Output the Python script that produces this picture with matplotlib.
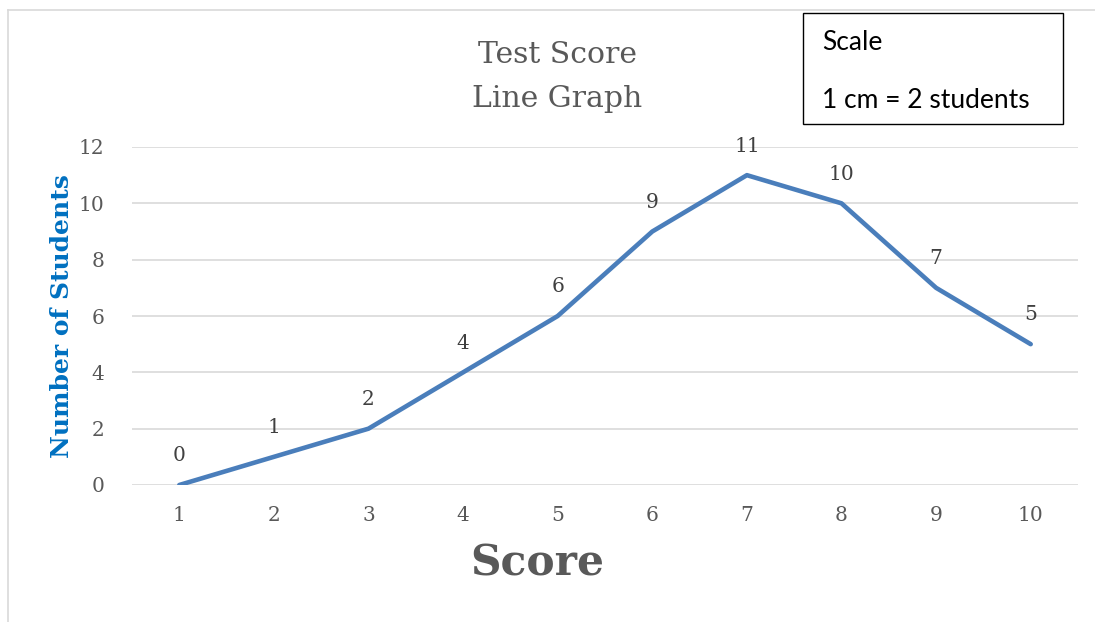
import matplotlib
matplotlib.use("Agg")
import matplotlib.pyplot as plt
from matplotlib.patches import Rectangle
from matplotlib.lines import Line2D

scores = [1, 2, 3, 4, 5, 6, 7, 8, 9, 10]
students = [0, 1, 2, 4, 6, 9, 11, 10, 7, 5]
y_ticks = [0, 2, 4, 6, 8, 10, 12]

serif = ["DejaVu Serif"]
sans = ["Lato", "DejaVu Sans"]
gray = "#595959"

fig = plt.figure(figsize=(10.95, 6.22), dpi=100)
W, H = 1095, 622

def fx(px):
    return px / W

def fy(py):
    return 1 - py / H

# outer chart border
fig.add_artist(Line2D([fx(8), fx(8)], [fy(10), fy(622)], color="#D9D9D9", lw=1.2, transform=fig.transFigure))
fig.add_artist(Line2D([fx(8), 1.0], [fy(10), fy(10)], color="#D9D9D9", lw=1.2, transform=fig.transFigure))

ax = fig.add_axes([fx(132), fy(485), fx(1078) - fx(132), (485 - 147) / H])
ax.plot(scores, students, color="#4A7EBB", lw=3.3, solid_capstyle="round", solid_joinstyle="round", zorder=3)
for x, y in zip(scores, students):
    ax.annotate(str(y), (x, y), xytext=(0, 21), textcoords="offset points",
                ha="center", va="center", fontsize=14.5, color="#404040", family=serif)

ax.set_xlim(0.5, 10.5)
ax.set_ylim(0, 12)
ax.set_yticks(y_ticks)
ax.set_xticks(scores)
ax.set_xticklabels([str(s) for s in scores], family=serif, fontsize=14.5, color=gray)
ax.set_yticklabels([str(t) for t in y_ticks], family=serif, fontsize=14.5, color=gray)
ax.tick_params(axis="both", length=0)
ax.tick_params(axis="x", pad=15)
ax.tick_params(axis="y", pad=20)
ax.grid(axis="y", color="#D9D9D9", lw=1.2)
ax.set_axisbelow(True)
for s in ax.spines.values():
    s.set_visible(False)

# titles
fig.text(fx(557), fy(55), "Test Score", ha="center", va="center", fontsize=21.5, color=gray, family=serif)
fig.text(fx(557), fy(99), "Line Graph", ha="center", va="center", fontsize=21.5, color=gray, family=serif)
fig.text(fx(62), fy(316), "Number of Students", ha="center", va="center", rotation=90,
         fontsize=18, fontweight="bold", color="#0070C0", family=serif)
fig.text(fx(537), fy(563), "Score", ha="center", va="center", fontsize=30.5,
         fontweight="bold", color=gray, family=serif)

# scale box
fig.add_artist(Rectangle((fx(803), fy(124)), fx(1063) - fx(803), (124 - 13) / H,
                         transform=fig.transFigure, facecolor="white", edgecolor="black", lw=1.0))
fig.text(fx(822), fy(43), "Scale", ha="left", va="center", fontsize=19, color="black", family=sans)
fig.text(fx(822), fy(100), "1 cm = 2 students", ha="left", va="center", fontsize=19, color="black", family=sans)

fig.savefig("out.png", dpi=100, facecolor="white")
